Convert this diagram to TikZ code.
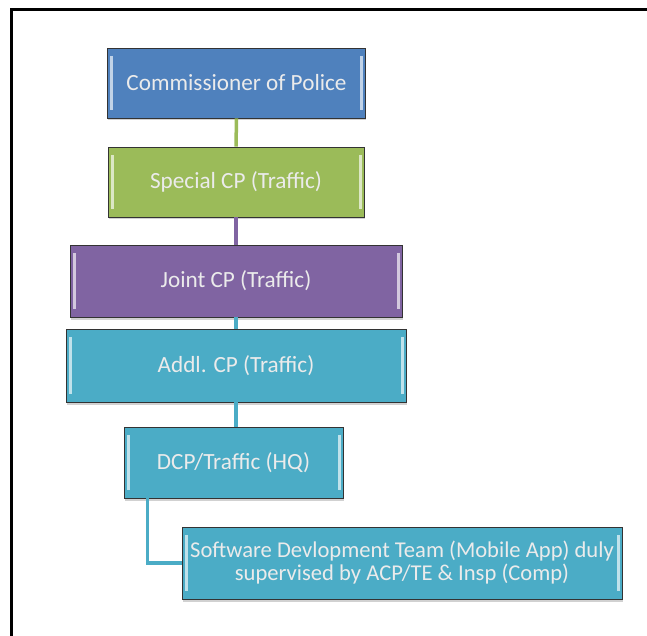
\documentclass[tikz,border=0pt]{standalone}
\usepackage{fontspec}
\setmainfont{Carlito}
\usepackage{tikz}
\usetikzlibrary{positioning, shadows, calc}

\definecolor{cpblue}{HTML}{4F81BD}
\definecolor{cpgreen}{HTML}{9BBB59}
\definecolor{cppurple}{HTML}{8064A2}
\definecolor{cpteal}{HTML}{4BACC6}

\begin{document}
\begin{tikzpicture}[
        x=1pt, y=-1pt,
        rankbox/.style={
            rectangle, draw=black!80, fill=#1, line width=0.9pt,
            text=white!92!black, align=center, inner sep=0pt,
            font=\fontsize{23.2}{23}\selectfont,
            drop shadow={shadow xshift=0.5pt, shadow yshift=-2.5pt, fill=black!30, opacity=0.6},
            path picture={
                \draw[line width=3pt, #1!35!white]
                    ([xshift=4pt, yshift=-8pt]path picture bounding box.north west) --
                    ([xshift=4pt, yshift=8pt]path picture bounding box.south west);
                \draw[line width=3pt, #1!35!white]
                    ([xshift=-4pt, yshift=-8pt]path picture bounding box.north east) --
                    ([xshift=-4pt, yshift=8pt]path picture bounding box.south east);
            }
        },
        link/.style={line width=3.5pt, #1}
    ]
        \useasboundingbox (0,0) rectangle (647,636);
        % outer frame, running off the page at right and bottom
        \draw[line width=3pt] (11,660) -- (11,10) -- (670,10);

        \node[rankbox=cpblue, minimum width=258pt, minimum height=70pt] (cp) at (236.5,83) {Commissioner of Police};
        \node[rankbox=cpgreen, minimum width=256pt, minimum height=70pt] (spcp) at (236,182) {Special CP (Traffic)};
        \node[rankbox=cppurple, minimum width=332pt, minimum height=72pt] (jtcp) at (236,281) {Joint CP (Traffic)};
        \node[rankbox=cpteal, minimum width=340pt, minimum height=73pt] (addlcp) at (236,365.5) {Addl. CP (Traffic)};
        \node[rankbox=cpteal, minimum width=219pt, minimum height=71pt] (dcp) at (233.5,462.5) {DCP/Traffic (HQ)};
        \node[rankbox=cpteal, minimum width=440pt, minimum height=72pt, font=\fontsize{22.6}{23}\selectfont] (swteam) at (402,563) {Software Devlopment Team (Mobile App) duly\\supervised by ACP/TE \& Insp (Comp)};

        \draw[link=cpgreen] (cp.south) -- (spcp.north);
        \draw[link=cppurple] (spcp.south) -- (jtcp.north);
        \draw[link=cpteal] (jtcp.south) -- (addlcp.north);
        \draw[link=cpteal] (addlcp.south) -- (dcp.north -| addlcp.south);
        \draw[link=cpteal] ([xshift=24pt]dcp.south west) |- (swteam.west);
    \end{tikzpicture}
\end{document}
